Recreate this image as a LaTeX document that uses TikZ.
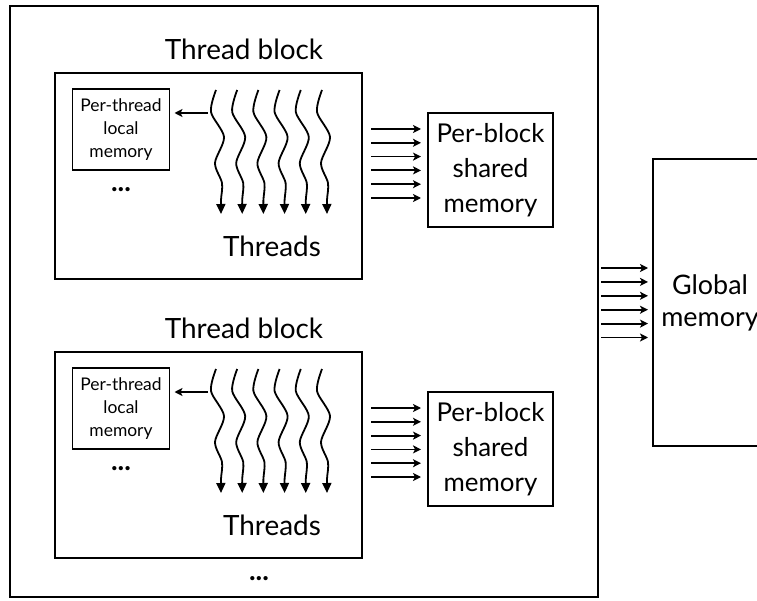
\documentclass[tikz,border=0pt]{standalone}
\usepackage{fontspec}
\setmainfont{Lato}
\usetikzlibrary{arrows.meta}
\begin{document}
\begin{tikzpicture}[x=1bp,y=-1bp,
  box/.style={draw,line width=1.6bp,inner sep=0pt,outer sep=0pt,align=center},
  big/.style={font=\fontsize{28}{34}\selectfont},
  mid/.style={font=\fontsize{26}{35}\selectfont},
  small/.style={font=\fontsize{17.5}{23.5}\selectfont},
  plain/.style={inner sep=0pt,align=center},
  arr/.style={line width=1.8bp,-{Stealth[length=8bp,width=8bp,inset=2bp]}},
  threadline/.style={line width=1.8bp,-{Triangle[length=10bp,width=9bp]}},
  thread/.pic={\draw[threadline] plot[smooth,tension=0.5] coordinates
    {(-5,-124) (-10,-102) (3,-77) (-6,-51) (1,-31) (0,-14) (0,0)};}
]
\fill[white] (0,0) rectangle (757,601);
\clip (0,0) rectangle (757,601);

% outer frame holding the thread blocks
\node[box,minimum width=588bp,minimum height=591bp] (frame) at (304,301.5) {};

% two thread blocks, the second shifted down by 279
\foreach \b/\dy in {A/0,B/279}{
  \node[plain,big] (title\b) at (244,49+\dy) {Thread block};
  \node[box,minimum width=307bp,minimum height=206bp] (block\b) at (208.5,176+\dy) {};
  \node[box,small,minimum width=97bp,minimum height=81bp] (local\b) at (121,129.5+\dy)
    {Per-thread\\local\\memory};
  \node[plain,big] (dots\b) at (121,190+\dy) {\bfseries ...};
  \node[plain,big] (threads\b) at (272,246+\dy) {Threads};
  \node[box,mid,minimum width=125bp,minimum height=114bp] (shared\b) at (490.5,170+\dy)
    {Per-block\\shared\\memory};
  % wavy thread arrows
  \foreach \i in {0,...,5}
    \pic at ({221+21.2*\i},214+\dy) {thread};
  % thread to its local memory
  \coordinate (t\b) at (208,113+\dy);
  \draw[arr,shorten >=5bp] (t\b) -- (t\b -| local\b.east);
  % block to shared memory
  \foreach \k in {0,...,5}{
    \coordinate (s\b\k) at (371,{129+13.8*\k+\dy});
    \draw[arr,shorten >=7bp] (s\b\k) -- (s\b\k -| shared\b.west);
  }
}
\node[plain,big] (dotsOuter) at (259,579) {\bfseries ...};

% global memory, running past the right edge
\node[box,font=\fontsize{27}{32}\selectfont,minimum width=114bp,minimum height=287bp,text width=114bp] (global) at (710,302.5)
  {Global\\memory};
\foreach \k in {0,...,5}{
  \coordinate (g\k) at (601,{268+13.9*\k});
  \draw[arr,shorten >=5bp] (g\k) -- (g\k -| global.west);
}
\end{tikzpicture}
\end{document}
